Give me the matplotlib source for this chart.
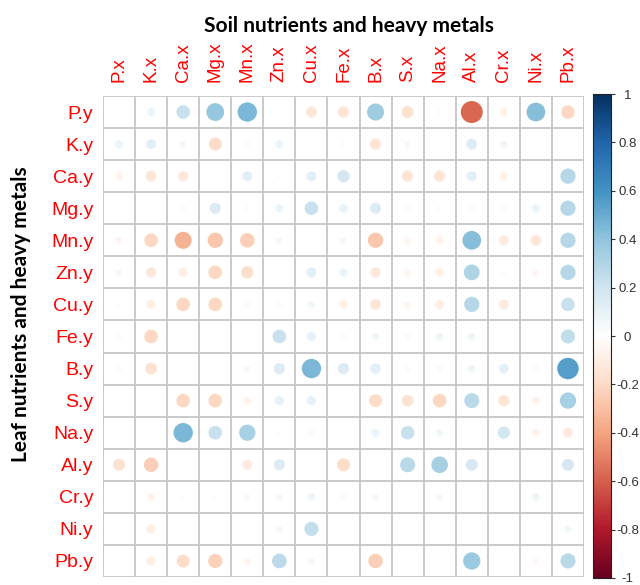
import numpy as np
import matplotlib
matplotlib.use("Agg")
import matplotlib.pyplot as plt
from matplotlib.colors import LinearSegmentedColormap, Normalize
from matplotlib.patches import Circle
from matplotlib.colorbar import ColorbarBase

# Soil variables (columns) and leaf variables (rows)
soil_vars = ["P.x", "K.x", "Ca.x", "Mg.x", "Mn.x", "Zn.x", "Cu.x", "Fe.x",
             "B.x", "S.x", "Na.x", "Al.x", "Cr.x", "Ni.x", "Pb.x"]
leaf_vars = ["P.y", "K.y", "Ca.y", "Mg.y", "Mn.y", "Zn.y", "Cu.y", "Fe.y",
             "B.y", "S.y", "Na.y", "Al.y", "Cr.y", "Ni.y", "Pb.y"]

# Correlation of each leaf variable with the soil variables (0 = blank cell)
r_P  = [0.00, 0.08, 0.22, 0.38, 0.45, 0.00, -0.14, -0.15, 0.35, -0.17, -0.03, -0.58, -0.08, 0.42, -0.22]
r_K  = [0.08, 0.12, 0.05, -0.20, -0.04, 0.08, 0.00, -0.03, -0.15, 0.05, 0.00, 0.14, 0.06, 0.00, 0.00]
r_Ca = [-0.07, -0.14, -0.13, 0.00, 0.12, 0.02, 0.12, 0.18, 0.02, -0.15, -0.15, 0.12, -0.08, 0.00, 0.28]
r_Mg = [0.00, 0.00, -0.04, 0.15, -0.03, 0.08, 0.22, 0.09, 0.15, -0.04, -0.03, -0.04, -0.05, 0.08, 0.28]
r_Mn = [-0.06, -0.22, -0.35, -0.28, -0.25, 0.05, 0.00, 0.05, -0.28, -0.06, -0.07, 0.42, -0.12, -0.14, 0.28]
r_Zn = [0.05, -0.13, -0.10, -0.22, -0.18, 0.00, 0.12, 0.08, -0.13, -0.06, -0.09, 0.30, -0.03, -0.06, 0.28]
r_Cu = [0.02, -0.10, -0.22, -0.22, -0.05, -0.04, 0.06, -0.09, -0.14, -0.06, -0.10, 0.28, -0.12, 0.00, 0.22]
r_Fe = [-0.04, -0.22, 0.00, 0.00, -0.02, 0.22, 0.10, -0.04, 0.06, 0.04, 0.07, 0.07, 0.02, 0.00, 0.24]
r_B  = [-0.04, -0.17, 0.00, 0.00, 0.05, 0.15, 0.45, 0.15, 0.13, 0.03, 0.04, 0.07, 0.11, -0.04, 0.55]
r_S  = [0.00, 0.00, -0.22, -0.22, -0.07, 0.10, 0.10, 0.00, -0.20, -0.16, -0.22, 0.27, -0.15, -0.07, 0.32]
r_Na = [0.00, 0.00, 0.45, 0.22, 0.32, -0.03, -0.05, 0.01, 0.08, 0.22, 0.06, 0.01, 0.18, -0.07, -0.12]
r_Al = [-0.17, -0.25, 0.01, 0.01, -0.12, 0.15, 0.01, -0.20, 0.01, 0.27, 0.33, 0.17, 0.00, 0.01, 0.17]
r_Cr = [0.00, -0.07, 0.02, 0.02, 0.04, 0.05, 0.07, -0.05, 0.05, 0.01, 0.05, 0.00, 0.00, 0.07, 0.00]
r_Ni = [0.00, -0.10, 0.00, 0.00, 0.00, 0.05, 0.24, 0.00, 0.00, 0.00, 0.01, 0.01, 0.00, 0.01, 0.06]
r_Pb = [0.00, -0.10, -0.20, -0.24, -0.06, 0.26, 0.05, 0.01, -0.25, 0.00, -0.02, 0.36, 0.00, -0.05, 0.27]

corr = np.array([r_P, r_K, r_Ca, r_Mg, r_Mn, r_Zn, r_Cu, r_Fe,
                 r_B, r_S, r_Na, r_Al, r_Cr, r_Ni, r_Pb])

cbar_ticks = [-1, -0.8, -0.6, -0.4, -0.2, 0, 0.2, 0.4, 0.6, 0.8, 1]

# Diverging red-white-blue palette
palette = ["#67001F", "#B2182B", "#D6604D", "#F4A582", "#FDDBC7", "#FFFFFF",
           "#D1E5F0", "#92C5DE", "#4393C3", "#2166AC", "#053061"]
cmap = LinearSegmentedColormap.from_list("corr", palette, N=200)
norm = Normalize(vmin=-1, vmax=1)

W, H = 640, 585
fig = plt.figure(figsize=(W / 100, H / 100), dpi=100)

gx0, gx1, gy0, gy1 = 103, 584, 96, 577
ax = fig.add_axes([gx0 / W, 1 - gy1 / H, (gx1 - gx0) / W, (gy1 - gy0) / H])
n_rows, n_cols = corr.shape
ax.set_xlim(0, n_cols)
ax.set_ylim(n_rows, 0)

grid_col = "#c6c6c6"
for k in range(n_cols + 1):
    ax.axvline(k, color=grid_col, lw=1.3, zorder=1)
for k in range(n_rows + 1):
    ax.axhline(k, color=grid_col, lw=1.3, zorder=1)
for s in ax.spines.values():
    s.set_visible(False)

# Circle area proportional to |r|
for i in range(n_rows):
    for j in range(n_cols):
        v = corr[i, j]
        if v == 0:
            continue
        rad = 0.45 * np.sqrt(abs(v))
        ax.add_patch(Circle((j + 0.5, i + 0.5), rad, facecolor=cmap(norm(v)),
                            edgecolor="none", zorder=2))

ax.set_xticks(np.arange(n_cols) + 0.5)
ax.set_xticklabels(soil_vars, rotation=90, color="red", fontsize=13.5,
                   family="Liberation Sans")
ax.xaxis.tick_top()
ax.set_yticks(np.arange(n_rows) + 0.5)
ax.set_yticklabels(leaf_vars, color="red", fontsize=14, family="Liberation Sans")
ax.tick_params(axis="x", length=0, pad=10)
ax.tick_params(axis="y", length=0, pad=7)

# Colour legend
cax = fig.add_axes([593 / W, 1 - 578 / H, 18 / W, 484 / H])
cb = ColorbarBase(cax, cmap=cmap, norm=norm, ticks=cbar_ticks)
cb.outline.set_linewidth(0.8)
cb.outline.set_edgecolor("#222222")
cb.ax.set_yticklabels([f"{t:g}" for t in cbar_ticks], fontsize=9.5,
                      family="Liberation Sans", color="#333333", ha="center")
cb.ax.tick_params(length=3, width=0.8, color="#333333", pad=9)

fig.text(349 / W, 1 - 26 / H, "Soil nutrients and heavy metals", ha="center",
         va="center", fontsize=15, fontweight="bold", family="Lato")
fig.text(21 / W, 1 - 314 / H, "Leaf nutrients and heavy metals", ha="center",
         va="center", rotation=90, fontsize=15, fontweight="bold", family="Lato")

fig.savefig("out.png", dpi=100)
